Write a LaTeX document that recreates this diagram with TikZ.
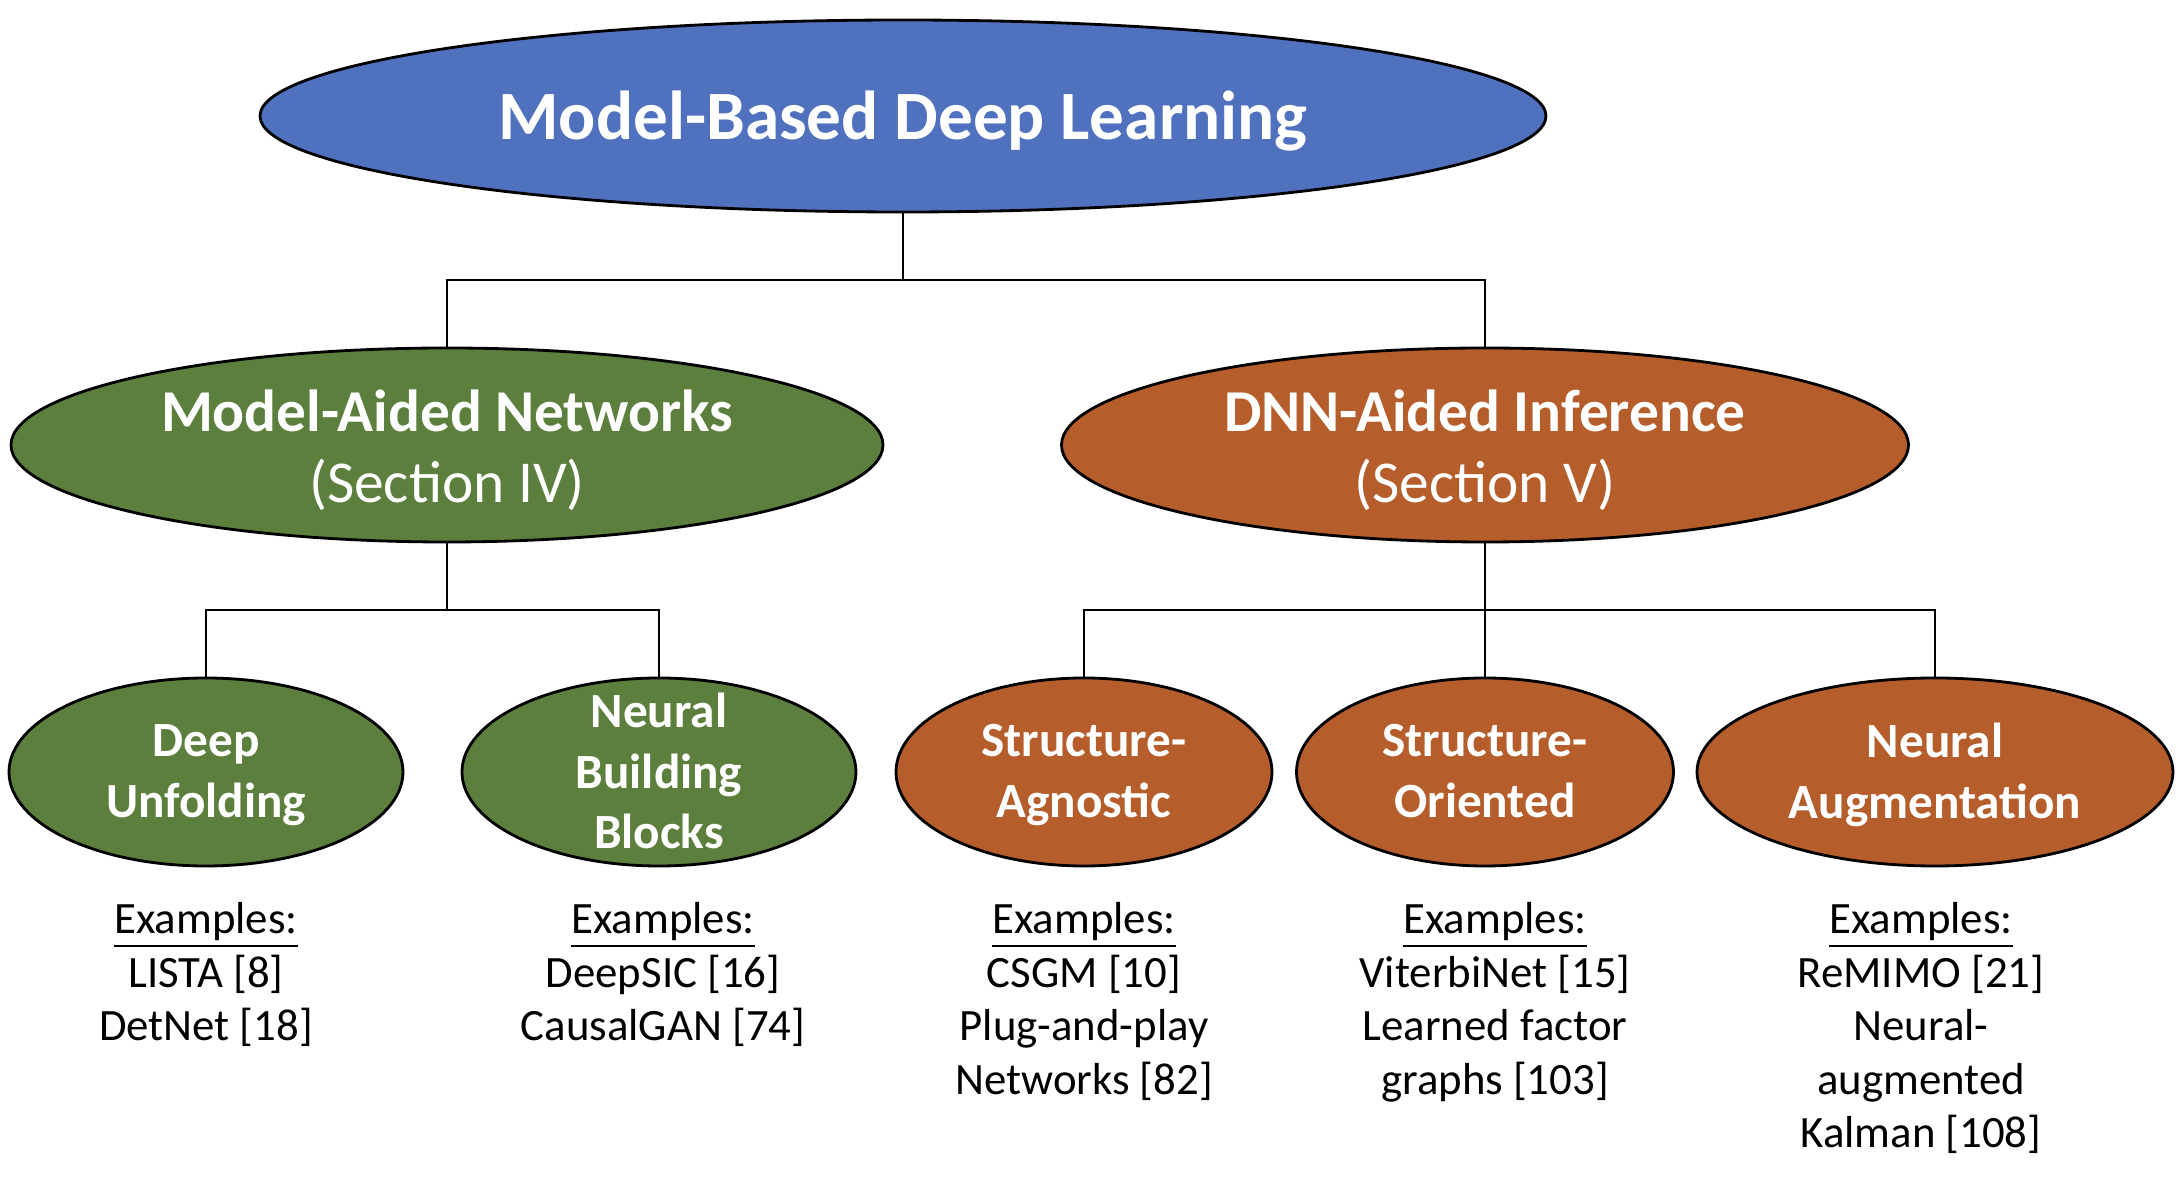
\documentclass[tikz,border=0pt]{standalone}
\usepackage{fontspec}
\setmainfont{Carlito}
\usepackage{tikz}
\usetikzlibrary{shapes.geometric, calc}

\definecolor{mbblue}{HTML}{4F71BE}
\definecolor{mbgreen}{HTML}{5C7F3D}
\definecolor{mborange}{HTML}{B65E2B}

\tikzset{
  oval/.style={ellipse, draw=black, line width=0.8pt, inner sep=0pt},
  ovaltext/.style={text=white, align=center, inner sep=0pt},
  toptext/.style={ovaltext, yshift=-0.055cm, font=\fontsize{19.7}{23}\selectfont\bfseries},
  midtext/.style={ovaltext, yshift=-0.055cm, font=\fontsize{16.9}{20.2}\selectfont},
  leaftext/.style={ovaltext, yshift=-0.03cm, execute at end node={\vphantom{g}},
    font=\fontsize{14}{17.2}\selectfont\bfseries},
  examples/.style={align=center, anchor=north, inner sep=0pt,
    font=\fontsize{12.75}{15.2}\selectfont},
  branch/.style={line width=0.8pt,
    to path={|- ($(\tikztostart)!0.5!(\tikztotarget)$) -| (\tikztotarget)}}
}

\begin{document}
\begin{tikzpicture}
    \useasboundingbox (0,0) rectangle (21.84,11.86);

    % Top level
    \node[oval, fill=mbblue, minimum width=12.86cm, minimum height=1.92cm] (mbdl) at (9.03,10.70) {};
    \node[toptext] (mbdl-t) at (mbdl) {Model-Based Deep Learning};

    % Second level
    \node[oval, fill=mbgreen, minimum width=8.72cm, minimum height=1.94cm] (man) at (4.47,7.41) {};
    \node[midtext] (man-t) at (man) {\textbf{Model-Aided Networks}\\(Section IV)};
    \node[oval, fill=mborange, minimum width=8.47cm, minimum height=1.94cm] (dai) at (14.85,7.41) {};
    \node[midtext] (dai-t) at (dai) {\textbf{DNN-Aided Inference}\\(Section V)};

    % Third level
    \node[oval, fill=mbgreen, minimum width=3.94cm, minimum height=1.88cm] (du) at (2.06,4.14) {};
    \node[leaftext] (du-t) at (du) {Deep\\Unfolding};
    \node[oval, fill=mbgreen, minimum width=3.94cm, minimum height=1.88cm] (nbb) at (6.59,4.14) {};
    \node[leaftext] (nbb-t) at (nbb) {Neural\\Building\\Blocks};
    \node[oval, fill=mborange, minimum width=3.76cm, minimum height=1.88cm] (sa) at (10.84,4.14) {};
    \node[leaftext] (sa-t) at (sa) {Structure-\\Agnostic};
    \node[oval, fill=mborange, minimum width=3.77cm, minimum height=1.88cm] (so) at (14.85,4.14) {};
    \node[leaftext] (so-t) at (so) {Structure-\\Oriented};
    \node[oval, fill=mborange, minimum width=4.76cm, minimum height=1.88cm] (na) at (19.35,4.14) {};
    \node[leaftext] (na-t) at (na) {Neural\\Augmentation};

    % Tree lines
    \draw (mbdl.south) to[branch] (man.north);
    \draw (mbdl.south) to[branch] (dai.north);
    \draw (man.south) to[branch] (du.north);
    \draw (man.south) to[branch] (nbb.north);
    \draw (dai.south) to[branch] (sa.north);
    \draw (dai.south) to[branch] (so.north);
    \draw (dai.south) to[branch] (na.north);

    % Examples
    \node[examples] (du-ex) at (2.06,2.84) {\underline{Examples:}\\LISTA [8]\\DetNet [18]};
    \node[examples] (nbb-ex) at (6.63,2.84) {\underline{Examples:}\\DeepSIC [16]\\CausalGAN [74]};
    \node[examples] (sa-ex) at (10.84,2.84) {\underline{Examples:}\\CSGM [10]\\Plug-and-play\\Networks [82]};
    \node[examples] (so-ex) at (14.95,2.84) {\underline{Examples:}\\ViterbiNet [15]\\Learned factor\\graphs [103]};
    \node[examples] (na-ex) at (19.21,2.84) {\underline{Examples:}\\ReMIMO [21]\\Neural-\\augmented\\Kalman [108]};
\end{tikzpicture}
\end{document}
